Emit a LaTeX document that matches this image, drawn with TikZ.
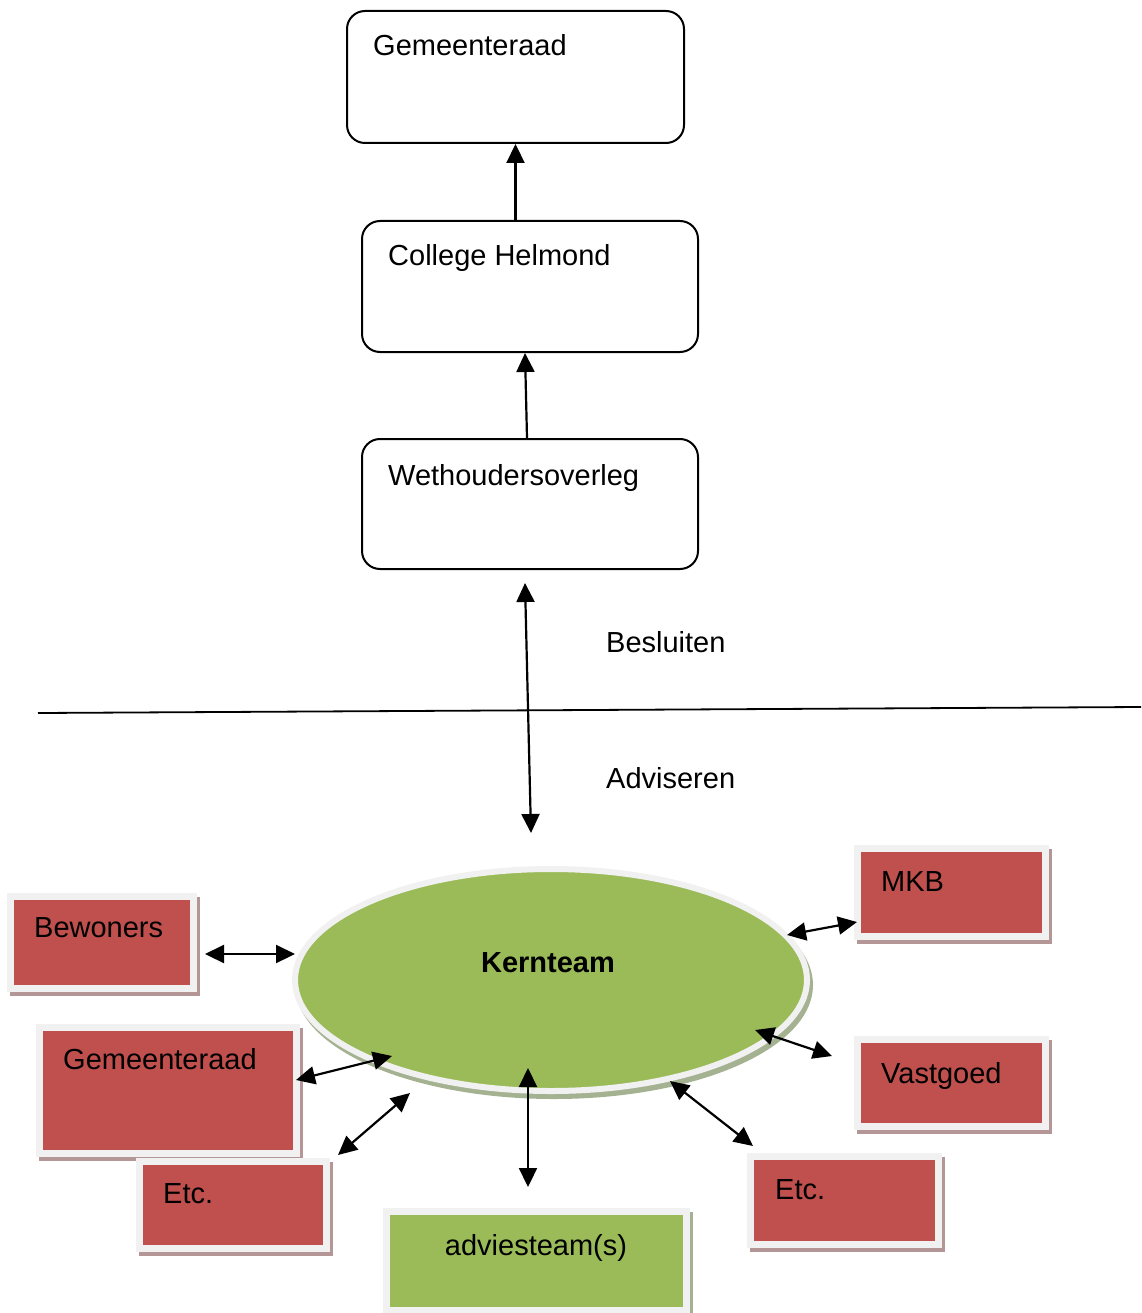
\documentclass[tikz,border=0pt]{standalone}
\usepackage{fontspec}
\setmainfont{Liberation Sans}
\usetikzlibrary{arrows.meta,shapes.geometric}
\definecolor{redf}{RGB}{192,80,77}
\definecolor{greenf}{RGB}{155,187,89}
\definecolor{framec}{RGB}{241,241,241}
\definecolor{shadr}{RGB}{180,150,150}
\definecolor{shadg}{RGB}{165,178,145}
\begin{document}
\begin{tikzpicture}[x=1pt,y=-1pt,
  txt/.style={font=\fontsize{29}{34}\selectfont, inner sep=0pt, anchor=base west},
  topbox/.style={draw=black, line width=2pt, rounded corners=18pt, inner sep=0pt},
  framebox/.style={draw=framec, line width=7pt, inner sep=0pt,
     preaction={draw=#1, fill=#1, transform canvas={xshift=3pt,yshift=-4pt}}},
  redbox/.style={framebox=shadr, fill=redf},
  greenbox/.style={framebox=shadg, fill=greenf},
  arr/.style={line width=2.2pt, -{Triangle[length=19pt,width=18pt]}},
  darr/.style={line width=2.2pt, {Triangle[length=19pt,width=18pt]}-{Triangle[length=19pt,width=18pt]}}
]
\useasboundingbox (0,0) rectangle (1141,1313);

% top chain
\node[topbox, minimum width=337pt, minimum height=132pt] (g1) at (515.5,77) {};
\node[txt] (g1t) at (373,56) {Gemeenteraad};
\node[topbox, minimum width=336pt, minimum height=131pt] (col) at (530,286.5) {};
\node[txt] (colt) at (388,266) {College Helmond};
\node[topbox, minimum width=336pt, minimum height=130pt] (weth) at (530,504) {};
\node[txt] (wetht) at (388,485) {Wethoudersoverleg};

\draw[arr] (col.north -| g1.south) -- (g1.south);
\draw[arr] ([xshift=-3pt]weth.north) -- ([xshift=-5pt]col.south);

% divider and labels
\coordinate (l1) at (38,713);
\coordinate (l2) at (1141,707);
\draw[line width=1.8pt] (l1) -- (l2);
\node[txt] (bes) at (606,652) {Besluiten};
\node[txt] (adv) at (606,788) {Adviseren};

\coordinate (wa) at (525,583);
\coordinate (wb) at (531,833);
\draw[darr] (wa) -- (wb);

% Kernteam
\node[ellipse, fill=greenf, draw=framec, line width=6pt, inner sep=0pt,
      minimum width=512pt, minimum height=222pt,
      preaction={draw=shadg, fill=shadg, transform canvas={xshift=3pt,yshift=-5pt}}] (kern) at (551,980) {};
\node[txt, anchor=base, font=\fontsize{29}{34}\selectfont\bfseries] (kernt) at (548,972) {Kernteam};

% surrounding boxes
\node[redbox, minimum width=183pt, minimum height=92pt] (bew) at (102,942.5) {};
\node[txt] (bewt) at (34,937) {Bewoners};
\node[redbox, minimum width=257pt, minimum height=126pt] (gr2) at (168,1090.5) {};
\node[txt] (gr2t) at (63,1069) {Gemeenteraad};
\node[redbox, minimum width=187pt, minimum height=87pt] (etcl) at (233,1205) {};
\node[txt] (etclt) at (163,1203) {Etc.};
\node[greenbox, minimum width=300pt, minimum height=99pt] (advt) at (536.5,1261) {};
\node[txt, anchor=base] (advtt) at (536,1255) {adviesteam(s)};
\node[redbox, minimum width=188pt, minimum height=88pt] (mkb) at (951.5,892.5) {};
\node[txt] (mkbt) at (881,891) {MKB};
\node[redbox, minimum width=188pt, minimum height=87pt] (vast) at (951.5,1083) {};
\node[txt] (vastt) at (881,1083) {Vastgoed};
\node[redbox, minimum width=188pt, minimum height=88pt] (etcr) at (844.5,1200.5) {};
\node[txt] (etcrt) at (775,1199) {Etc.};

% connectors
\coordinate (b1) at (205,954);   \coordinate (b2) at (295,954);
\coordinate (r1) at (296,1080);  \coordinate (r2) at (392,1056);
\coordinate (e1) at (338,1155);  \coordinate (e2) at (410,1093);
\coordinate (a1) at (528,1187);  \coordinate (a2) at (528,1068);
\coordinate (f1) at (753,1146);  \coordinate (f2) at (670,1081);
\coordinate (v1) at (832,1056);  \coordinate (v2) at (755,1030);
\coordinate (m1) at (787,935);   \coordinate (m2) at (857,922);
\draw[darr] (b1) -- (b2);
\draw[darr] (r1) -- (r2);
\draw[darr] (e1) -- (e2);
\draw[darr] (a1) -- (a2);
\draw[darr] (f1) -- (f2);
\draw[darr] (v1) -- (v2);
\draw[darr] (m1) -- (m2);
\end{tikzpicture}
\end{document}
